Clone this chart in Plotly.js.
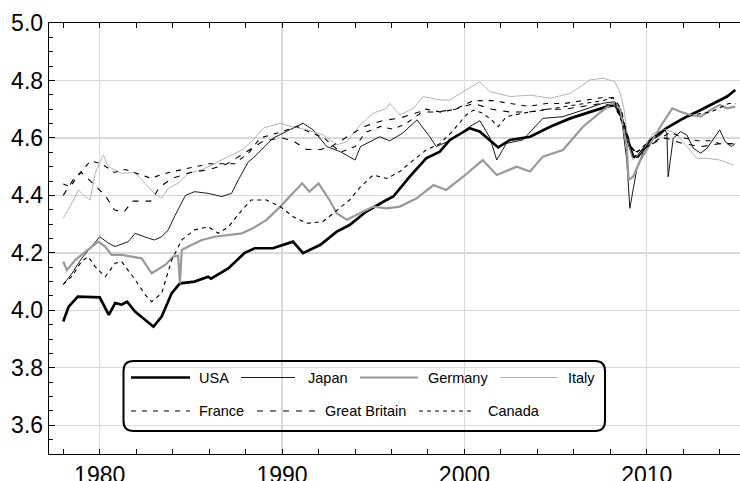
<!DOCTYPE html>
<html>
<head>
<meta charset="utf-8">
<script src="https://cdn.plot.ly/plotly-3.0.1.min.js"></script>
<style>html,body{margin:0;padding:0;background:#fff;}#chart{width:740px;height:481px;}</style>
</head>
<body>
<div id="chart"></div>
<script>
// ---- data ----
const seriesNames = ["USA", "Japan", "Germany", "Italy", "France", "Great Britain", "Canada"];
const xTickLabels = ["1980", "1990", "2000", "2010"];
const yTickLabels = ["3.6", "3.8", "4.0", "4.2", "4.4", "4.6", "4.8", "5.0"];

const usaYears = [1978.0,1978.3,1978.8,1979.5,1980.0,1980.5,1980.85,1981.2,1981.5,1981.95,1982.5,1982.95,1983.4,1983.95,1984.4,1985.2,1985.95,1986.1,1987.05,1987.95,1988.5,1989.5,1990.6,1991.15,1992.1,1993.0,1993.7,1994.6,1995.55,1996.1,1997.0,1997.9,1998.65,1999.2,2000.3,2000.85,2001.85,2002.5,2003.6,2004.7,2005.8,2006.9,2007.8,2008.25,2008.55,2008.9,2009.25,2009.5,2010.2,2011.08,2012.0,2012.95,2013.83,2014.4,2014.85];
const usaValues = [3.961,4.013,4.048,4.045,4.045,3.984,4.025,4.02,4.03,3.995,3.967,3.943,3.978,4.06,4.094,4.10,4.117,4.11,4.146,4.20,4.216,4.216,4.239,4.199,4.228,4.274,4.297,4.343,4.378,4.396,4.465,4.529,4.552,4.593,4.634,4.622,4.567,4.593,4.604,4.639,4.668,4.691,4.709,4.715,4.686,4.604,4.535,4.535,4.593,4.634,4.668,4.697,4.726,4.744,4.767];

const japanYears = [1978.0,1978.5,1979.0,1979.5,1980.0,1980.5,1980.84,1981.57,1981.94,1982.67,1983.0,1983.4,1983.76,1984.13,1984.7,1985.2,1985.95,1986.7,1987.23,1987.6,1988.15,1988.4,1989.5,1990.4,1991.15,1991.7,1992.45,1993.2,1994.0,1994.3,1995.35,1995.9,1996.6,1997.4,1998.1,1998.45,1999.2,2000.3,2000.85,2001.4,2001.77,2002.3,2003.2,2004.3,2005.4,2006.5,2007.6,2008.25,2008.55,2008.9,2009.07,2009.44,2009.8,2010.2,2010.75,2011.0,2011.1,2011.17,2011.3,2011.45,2011.85,2012.2,2012.55,2012.95,2013.3,2013.67,2014.0,2014.3,2014.65,2014.85];
const japanValues = [4.09,4.13,4.18,4.22,4.256,4.233,4.222,4.239,4.268,4.251,4.245,4.256,4.28,4.33,4.40,4.413,4.407,4.396,4.407,4.454,4.517,4.529,4.599,4.628,4.651,4.628,4.57,4.552,4.523,4.57,4.604,4.59,4.616,4.663,4.604,4.57,4.59,4.64,4.66,4.60,4.523,4.581,4.593,4.668,4.674,4.697,4.721,4.726,4.70,4.523,4.355,4.489,4.552,4.59,4.61,4.628,4.616,4.465,4.523,4.599,4.622,4.61,4.564,4.547,4.564,4.599,4.628,4.587,4.57,4.58];

const germanyYears = [1978.0,1978.2,1978.65,1979.37,1979.92,1980.3,1980.66,1981.2,1981.75,1982.3,1982.85,1983.6,1984.03,1984.3,1984.4,1984.5,1984.86,1985.6,1986.3,1987.05,1987.8,1988.4,1989.15,1989.9,1990.6,1991.1,1991.5,1992.0,1992.6,1993.0,1993.55,1994.1,1995.0,1995.73,1996.46,1997.38,1998.3,1999.0,1999.93,2001.0,2001.77,2002.86,2003.6,2004.3,2005.4,2006.5,2007.6,2008.15,2008.55,2008.9,2009.0,2009.25,2009.65,2010.2,2010.8,2011.4,2011.85,2012.4,2012.95,2013.5,2014.0,2014.4,2014.85];
const germanyValues = [4.17,4.14,4.175,4.21,4.239,4.222,4.193,4.193,4.187,4.181,4.129,4.158,4.187,4.19,4.094,4.21,4.222,4.245,4.256,4.262,4.268,4.286,4.315,4.361,4.407,4.442,4.413,4.442,4.384,4.338,4.315,4.332,4.361,4.355,4.361,4.39,4.436,4.419,4.465,4.523,4.471,4.50,4.483,4.535,4.558,4.639,4.697,4.721,4.70,4.57,4.454,4.465,4.523,4.581,4.645,4.703,4.691,4.68,4.674,4.697,4.715,4.703,4.709];

const italyYears = [1978.0,1978.47,1978.83,1979.2,1979.47,1979.75,1980.2,1980.47,1981.2,1981.9,1982.48,1983.0,1983.4,1983.76,1984.3,1984.86,1985.6,1986.3,1987.05,1987.8,1988.33,1988.97,1989.88,1990.5,1991.35,1992.26,1993.0,1993.55,1994.27,1995.0,1995.73,1995.9,1996.46,1997.2,1997.74,1998.66,1999.2,1999.93,2000.85,2001.4,2002.5,2003.6,2004.7,2005.8,2006.9,2007.6,2008.25,2008.55,2008.75,2009.0,2009.25,2009.8,2010.35,2011.0,2011.6,2012.2,2012.75,2013.3,2014.0,2014.75];
const italyValues = [4.32,4.373,4.419,4.396,4.384,4.477,4.541,4.50,4.477,4.48,4.442,4.407,4.39,4.425,4.442,4.477,4.489,4.512,4.535,4.558,4.587,4.634,4.651,4.64,4.628,4.61,4.576,4.587,4.645,4.686,4.703,4.72,4.68,4.703,4.744,4.732,4.732,4.761,4.796,4.761,4.744,4.749,4.738,4.755,4.802,4.808,4.796,4.755,4.70,4.58,4.523,4.558,4.616,4.63,4.616,4.57,4.529,4.529,4.523,4.506];

const franceYears = [1978.0,1978.4,1978.8,1979.5,1980.1,1980.8,1981.4,1981.9,1982.8,1983.8,1984.5,1985.2,1986.0,1986.7,1987.4,1988.2,1988.8,1989.9,1990.8,1991.5,1992.3,1993.2,1994.0,1994.6,1995.4,1996.1,1996.8,1997.9,1998.7,1999.5,2000.5,2001.5,2002.5,2003.5,2004.5,2005.5,2006.5,2007.5,2008.2,2008.6,2009.0,2009.3,2009.8,2010.5,2011.3,2012.0,2012.8,2013.5,2014.0,2014.85];
const franceValues = [4.44,4.43,4.47,4.52,4.51,4.48,4.49,4.48,4.46,4.48,4.49,4.50,4.51,4.51,4.51,4.55,4.60,4.62,4.64,4.62,4.60,4.55,4.57,4.62,4.64,4.63,4.65,4.70,4.69,4.70,4.73,4.73,4.72,4.71,4.72,4.72,4.73,4.74,4.74,4.70,4.58,4.55,4.56,4.59,4.62,4.60,4.59,4.59,4.58,4.58];

const britainYears = [1978.0,1978.6,1979.0,1979.5,1980.3,1980.8,1981.3,1981.8,1982.3,1982.8,1983.3,1984.0,1985.0,1986.0,1987.0,1988.0,1989.0,1990.0,1990.6,1991.35,1992.1,1992.7,1993.5,1994.5,1995.5,1996.5,1997.5,1998.5,1999.5,2000.5,2001.5,2002.5,2003.5,2004.5,2005.5,2006.5,2007.5,2008.2,2008.7,2009.2,2009.6,2010.3,2011.0,2012.0,2013.0,2014.0,2014.85];
const britainValues = [4.40,4.46,4.48,4.45,4.40,4.35,4.34,4.38,4.38,4.38,4.43,4.46,4.48,4.49,4.51,4.55,4.59,4.60,4.59,4.56,4.56,4.57,4.60,4.64,4.66,4.67,4.69,4.69,4.70,4.72,4.70,4.69,4.69,4.70,4.70,4.71,4.72,4.71,4.66,4.56,4.55,4.58,4.60,4.58,4.57,4.58,4.58];

const canadaYears = [1978.0,1978.5,1979.0,1979.37,1979.75,1980.3,1980.85,1981.2,1981.95,1982.5,1982.85,1983.4,1983.95,1984.5,1985.2,1985.95,1986.5,1987.05,1987.8,1988.3,1989.15,1989.9,1990.6,1991.35,1992.25,1993.0,1993.7,1994.3,1995.0,1995.75,1996.45,1997.2,1997.9,1998.65,1999.3,2000.1,2000.5,2001.0,2001.5,2001.85,2002.3,2003.2,2004.3,2005.4,2006.5,2007.6,2008.15,2008.7,2009.05,2009.4,2010.3,2011.5,2012.5,2013.5,2014.5,2014.85];
const canadaValues = [4.09,4.12,4.17,4.187,4.152,4.117,4.164,4.17,4.106,4.054,4.03,4.06,4.175,4.245,4.28,4.291,4.268,4.29,4.349,4.384,4.384,4.361,4.326,4.303,4.309,4.349,4.384,4.43,4.471,4.459,4.483,4.523,4.558,4.58,4.62,4.68,4.697,4.686,4.662,4.639,4.674,4.686,4.697,4.709,4.72,4.73,4.74,4.64,4.58,4.547,4.60,4.65,4.68,4.69,4.72,4.72];

const seriesYears = [usaYears, japanYears, germanyYears, italyYears, franceYears, britainYears, canadaYears];
const seriesValues = [usaValues, japanValues, germanyValues, italyValues, franceValues, britainValues, canadaValues];

// ---- styles ----
const lineStyles = [
  {color: "#000000", width: 2.7, dash: "solid"},
  {color: "#000000", width: 0.9, dash: "solid"},
  {color: "#999999", width: 2.2, dash: "solid"},
  {color: "#ababab", width: 0.9, dash: "solid"},
  {color: "#000000", width: 1.1, dash: "5px,6px"},
  {color: "#000000", width: 1.1, dash: "6px,7px"},
  {color: "#000000", width: 1.1, dash: "4px,4px"}
];

const W = 740, H = 481;
const M = {l: 49, r: 0, t: 23, b: 27};
const plotW = W - M.l - M.r, plotH = H - M.t - M.b;
const px = v => (v - M.l) / plotW;
const py = v => (H - M.b - v) / plotH;

const traces = seriesNames.map((name, i) => ({
  type: "scatter", mode: "lines", name: name,
  x: seriesYears[i], y: seriesValues[i],
  line: {color: lineStyles[i].color, width: lineStyles[i].width, dash: lineStyles[i].dash},
  showlegend: false, hoverinfo: "skip"
}));

// ---- custom legend (rounded box, Mathematica-like) ----
const box = {l: 123.5, t: 361, r: 605, b: 431, rad: 10};
const rx = box.rad / plotW, ry = box.rad / plotH;
const bx0 = px(box.l), bx1 = px(box.r), by0 = py(box.b), by1 = py(box.t);
const boxPath = `M ${bx0 + rx} ${by0} L ${bx1 - rx} ${by0} Q ${bx1} ${by0} ${bx1} ${by0 + ry} ` +
  `L ${bx1} ${by1 - ry} Q ${bx1} ${by1} ${bx1 - rx} ${by1} L ${bx0 + rx} ${by1} ` +
  `Q ${bx0} ${by1} ${bx0} ${by1 - ry} L ${bx0} ${by0 + ry} Q ${bx0} ${by0} ${bx0 + rx} ${by0} Z`;

const legendSlots = [
  {x0: 131, x1: 190, tx: 197, y: 377.5},
  {x0: 241, x1: 295, tx: 306, y: 377.5},
  {x0: 360, x1: 418, tx: 426, y: 377.5},
  {x0: 500, x1: 558, tx: 566, y: 377.5},
  {x0: 131, x1: 190, tx: 197, y: 411},
  {x0: 257, x1: 315, tx: 323, y: 411},
  {x0: 419, x1: 475, tx: 486, y: 411}
];

const shapes = [{type: "path", xref: "paper", yref: "paper", path: boxPath,
  line: {color: "#000", width: 2}, fillcolor: "rgba(0,0,0,0)"}];
const annotations = [];
seriesNames.forEach((name, i) => {
  const s = legendSlots[i];
  shapes.push({type: "line", xref: "paper", yref: "paper",
    x0: px(s.x0), x1: px(s.x1), y0: py(s.y), y1: py(s.y),
    line: {color: lineStyles[i].color, width: lineStyles[i].width, dash: lineStyles[i].dash}});
  annotations.push({xref: "paper", yref: "paper", x: px(s.tx), y: py(s.y),
    xanchor: "left", yanchor: "middle", showarrow: false, text: name,
    font: {family: "Liberation Sans, Arial, sans-serif", size: 14.5, color: "#000"}});
});

const tickFont = {family: "Liberation Sans, Arial, sans-serif", size: 23, color: "#000"};
const layout = {
  width: W, height: H,
  margin: M,
  paper_bgcolor: "#fff", plot_bgcolor: "#fff",
  showlegend: false,
  xaxis: {
    range: [1977.22, 2015.11],
    tickmode: "array", tickvals: xTickLabels.map(Number), ticktext: xTickLabels,
    ticks: "inside", ticklen: 5, tickwidth: 1, tickcolor: "#000",
    showline: true, linecolor: "#000", linewidth: 1.3, mirror: "ticks",
    showgrid: true, gridcolor: "#d9d9d9", gridwidth: 1.3,
    zeroline: false, tickfont: tickFont,
    minor: {tickmode: "linear", tick0: 1978, dtick: 2, ticks: "inside", ticklen: 5, tickcolor: "#000", showgrid: false}
  },
  yaxis: {
    range: [3.5, 5.0],
    tickmode: "array", tickvals: yTickLabels.map(Number), ticktext: yTickLabels,
    ticks: "inside", ticklen: 6, tickwidth: 1, tickcolor: "#000",
    showline: true, linecolor: "#000", linewidth: 1.3,
    showgrid: true, gridcolor: "#d9d9d9", gridwidth: 1.3,
    zeroline: false, tickfont: tickFont,
    minor: {tickmode: "linear", tick0: 3.5, dtick: 0.05, ticks: "inside", ticklen: 3.5, tickcolor: "#000", showgrid: false}
  },
  shapes: shapes,
  annotations: annotations
};

Plotly.newPlot("chart", traces, layout, {staticPlot: true, displayModeBar: false});
</script>
</body>
</html>
